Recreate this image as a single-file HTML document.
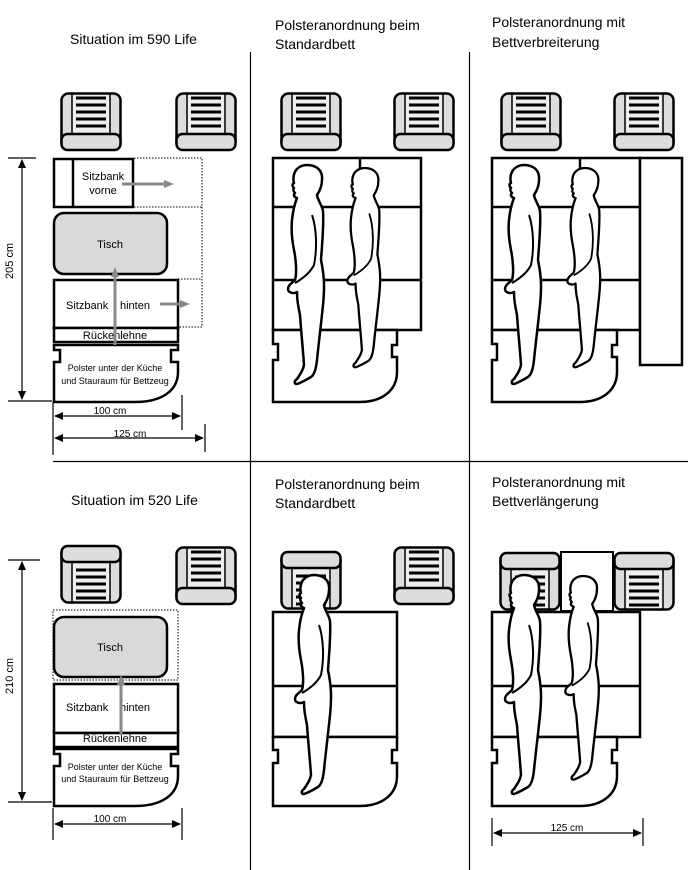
<!DOCTYPE html>
<html><head><meta charset="utf-8"><style>
html,body{margin:0;padding:0;background:#fff;}
svg{display:block;font-family:"Liberation Sans",sans-serif;}
</style></head><body>
<svg width="688" height="870" viewBox="0 0 688 870" xmlns="http://www.w3.org/2000/svg">
<defs>
<g id="seat">
<rect x="1.5" y="1.5" width="59" height="56" rx="7" fill="#ddd" stroke="#000" stroke-width="2.5"/>
<rect x="12" y="2" width="38" height="41" fill="#eee" stroke="#000" stroke-width="1.5"/>
<g stroke="#000" stroke-width="3"><line x1="16" y1="6" x2="46" y2="6"/><line x1="16" y1="13" x2="46" y2="13"/><line x1="16" y1="20" x2="46" y2="20"/><line x1="16" y1="27" x2="46" y2="27"/><line x1="16" y1="34" x2="46" y2="34"/></g>
<rect x="1.5" y="42" width="59" height="16" rx="6" fill="#ddd" stroke="#000" stroke-width="2.5"/>
</g>
<g id="person">
<path d="M15,0 C25,0 31,6 30,15 C30,22 27,27 25,30 C26,36 30,40 31,46 C32,60 30,80 29,95 C32,110 33,120 31,140 C29,160 27,175 25,195 C24,205 22,210 19,212 C14,215 8,218 5,219 C2,219 2,216 5,214 C9,208 11,205 12,200 C11,185 9,165 8,150 C6,140 5,135 5,127 C2,129 -4,128 -4,124 C-4,120 0,118 3,115 C5,108 4,95 2,85 C0,75 -1,65 0,55 C1,45 3,38 5,33 C2,32 1,30 3,28 C1,26 1,24 2,23 C0,21 0,19 2,18 C1,15 1,8 5,4 C8,1 12,0 15,0 Z" fill="#fff" stroke="#000" stroke-width="2.5" stroke-linejoin="round"/>
<path d="M20,50 C25,65 25,85 22,100 C18,108 10,114 3,118" fill="none" stroke="#000" stroke-width="2"/>
</g>
</defs>

<g stroke="#000" stroke-width="1.2">
<line x1="250.5" y1="52" x2="250.5" y2="870"/>
<line x1="469.5" y1="52" x2="469.5" y2="870"/>
<line x1="53" y1="461.5" x2="688" y2="461.5"/>
</g>

<g font-size="14" fill="#000">
<text x="70" y="44">Situation im 590 Life</text>
<text x="275" y="30">Polsteranordnung beim</text>
<text x="275" y="49">Standardbett</text>
<text x="492" y="27">Polsteranordnung mit</text>
<text x="492" y="47">Bettverbreiterung</text>
<text x="71" y="505">Situation im 520 Life</text>
<text x="275" y="489">Polsteranordnung beim</text>
<text x="275" y="508">Standardbett</text>
<text x="492" y="487">Polsteranordnung mit</text>
<text x="492" y="506">Bettverlängerung</text>
</g>

<!-- TOP LEFT -->
<use href="#seat" x="60" y="92"/>
<use href="#seat" x="175" y="92"/>
<g fill="none" stroke="#000" stroke-width="1" stroke-dasharray="1.5,1.5">
<polyline points="134,158 202,158 202,327 178,327"/>
<line x1="134" y1="207" x2="202" y2="207"/>
<line x1="178" y1="279" x2="202" y2="279"/>
</g>
<rect x="54" y="159" width="79" height="48" fill="#fff" stroke="#000" stroke-width="2.5"/>
<line x1="73" y1="159" x2="73" y2="207" stroke="#000" stroke-width="2.5"/>
<text x="103" y="180" font-size="11" text-anchor="middle">Sitzbank</text>
<text x="103" y="194" font-size="11" text-anchor="middle">vorne</text>
<rect x="54" y="213" width="113" height="61" rx="10" fill="#d9d9d9" stroke="#000" stroke-width="2.5"/>
<text x="110" y="248" font-size="11" text-anchor="middle">Tisch</text>
<rect x="54" y="280" width="124" height="48" fill="#fff" stroke="#000" stroke-width="2.5"/>
<text x="66" y="309" font-size="11">Sitzbank</text>
<text x="120" y="309" font-size="11">hinten</text>
<rect x="54" y="328" width="124" height="14" fill="#fff" stroke="#000" stroke-width="2.5"/>
<text x="115" y="339" font-size="11" text-anchor="middle">Rückenlehne</text>
<path d="M54,345 H178 V350 H171 V362 H178 V372 C178,392 160,402 135,402 H54 V362 H60 V350 H54 Z" fill="#fff" stroke="#000" stroke-width="2.5"/>
<text x="115" y="371" font-size="9" text-anchor="middle">Polster unter der Küche</text>
<text x="115" y="384" font-size="9" text-anchor="middle">und Stauraum für Bettzeug</text>
<g stroke="#888" stroke-width="3" fill="#888">
<line x1="122" y1="184" x2="166" y2="184"/><polygon points="174,184 164,180 164,188" stroke="none"/>
<line x1="160" y1="304" x2="182" y2="304"/><polygon points="190,304 180,300 180,308" stroke="none"/>
<line x1="115" y1="345" x2="115" y2="275"/><polygon points="115,267 111,277 119,277" stroke="none"/>
</g>
<g stroke="#000" stroke-width="1.2" fill="#000">
<line x1="8" y1="158" x2="36" y2="158"/><line x1="8" y1="401" x2="52" y2="401"/>
<line x1="22" y1="160" x2="22" y2="399"/>
<polygon points="22,159 18,168 26,168" stroke="none"/><polygon points="22,400 18,391 26,391" stroke="none"/>
<line x1="53" y1="402" x2="53" y2="455"/>
<line x1="182" y1="395" x2="182" y2="430"/>
<line x1="205" y1="424" x2="205" y2="452"/>
<line x1="55" y1="416" x2="180" y2="416"/>
<polygon points="54,416 63,412 63,420" stroke="none"/><polygon points="181,416 172,412 172,420" stroke="none"/>
<line x1="55" y1="438" x2="203" y2="438"/>
<polygon points="54,438 63,434 63,442" stroke="none"/><polygon points="204,438 195,434 195,442" stroke="none"/>
</g>
<text x="17" y="265" font-size="11" text-anchor="middle" transform="rotate(-90 13 265)">205 cm</text>
<text x="110" y="414" font-size="10" text-anchor="middle">100 cm</text>
<text x="130" y="437" font-size="10" text-anchor="middle">125 cm</text>

<!-- TOP MIDDLE -->
<use href="#seat" x="280" y="92"/>
<use href="#seat" x="393" y="92"/>
<g fill="none" stroke="#000" stroke-width="2.5">
<rect x="273" y="158" width="148" height="172" fill="#fff"/>
<line x1="273" y1="207" x2="421" y2="207"/>
<line x1="273" y1="280" x2="421" y2="280"/>
<line x1="360" y1="158" x2="360" y2="170"/>
<path d="M273,330 H397 V345 H392 V357 H397 V372 C397,392 380,402 360,402 H273 V360 H278 V344 H273 Z" fill="#fff"/>
</g>
<use href="#person" x="292" y="165"/>
<use href="#person" transform="translate(351 168) scale(0.91)"/>

<!-- TOP RIGHT -->
<use href="#seat" x="500" y="92"/>
<use href="#seat" x="613" y="92"/>
<g fill="none" stroke="#000" stroke-width="2.5">
<rect x="492" y="158" width="148" height="172" fill="#fff"/>
<line x1="492" y1="207" x2="640" y2="207"/>
<line x1="492" y1="280" x2="640" y2="280"/>
<line x1="580" y1="158" x2="580" y2="170"/>
<rect x="640" y="158" width="42" height="207" fill="#fff"/>
<path d="M492,330 H617 V345 H612 V357 H617 V372 C617,392 600,402 580,402 H492 V360 H497 V344 H492 Z" fill="#fff"/>
</g>
<use href="#person" x="509" y="165"/>
<use href="#person" transform="translate(571 168) scale(0.91)"/>

<!-- BOTTOM LEFT -->
<use href="#seat" transform="translate(60 604) scale(1 -1)"/>
<use href="#seat" x="175" y="546"/>
<rect x="53" y="610" width="125" height="70" fill="none" stroke="#000" stroke-width="1" stroke-dasharray="1.5,1.5"/>
<rect x="54" y="617" width="113" height="60" rx="10" fill="#d9d9d9" stroke="#000" stroke-width="2.5"/>
<text x="110" y="651" font-size="11" text-anchor="middle">Tisch</text>
<rect x="54" y="684" width="124" height="49" fill="#fff" stroke="#000" stroke-width="2.5"/>
<text x="66" y="711" font-size="11">Sitzbank</text>
<text x="120" y="711" font-size="11">hinten</text>
<rect x="54" y="733" width="124" height="14" fill="#fff" stroke="#000" stroke-width="2.5"/>
<text x="115" y="742" font-size="11" text-anchor="middle">Rückenlehne</text>
<path d="M54,749 H178 V754 H171 V766 H178 V776 C178,796 160,806 135,806 H54 V766 H60 V754 H54 Z" fill="#fff" stroke="#000" stroke-width="2.5"/>
<text x="115" y="770" font-size="9" text-anchor="middle">Polster unter der Küche</text>
<text x="115" y="782" font-size="9" text-anchor="middle">und Stauraum für Bettzeug</text>
<g stroke="#888" stroke-width="3" fill="#888">
<line x1="121" y1="735" x2="121" y2="683"/><polygon points="121,675 117,685 125,685" stroke="none"/>
</g>
<g stroke="#000" stroke-width="1.2" fill="#000">
<line x1="8" y1="560" x2="40" y2="560"/><line x1="8" y1="802" x2="52" y2="802"/>
<line x1="22" y1="562" x2="22" y2="800"/>
<polygon points="22,561 18,570 26,570" stroke="none"/><polygon points="22,801 18,792 26,792" stroke="none"/>
<line x1="53" y1="808" x2="53" y2="840"/>
<line x1="182" y1="808" x2="182" y2="840"/>
<line x1="55" y1="824" x2="180" y2="824"/>
<polygon points="54,824 63,820 63,828" stroke="none"/><polygon points="181,824 172,820 172,828" stroke="none"/>
</g>
<text x="17" y="680" font-size="11" text-anchor="middle" transform="rotate(-90 13 680)">210 cm</text>
<text x="110" y="822" font-size="10" text-anchor="middle">100 cm</text>

<!-- BOTTOM MIDDLE -->
<use href="#seat" transform="translate(280 610) scale(1 -1)"/>
<use href="#seat" x="393" y="546"/>
<g fill="none" stroke="#000" stroke-width="2.5">
<rect x="273" y="612" width="124" height="125" fill="#fff"/>
<line x1="273" y1="686" x2="397" y2="686"/>
<path d="M273,737 H397 V750 H392 V763 H397 V776 C397,796 380,806 360,806 H273 V763 H278 V750 H273 Z" fill="#fff"/>
</g>
<use href="#person" x="299" y="575"/>

<!-- BOTTOM RIGHT -->
<use href="#seat" transform="translate(499 611) scale(1 -1)"/>
<rect x="561" y="552" width="52" height="59" fill="#fff" stroke="#000" stroke-width="2"/>
<use href="#seat" transform="translate(613 611) scale(1 -1)"/>
<g fill="none" stroke="#000" stroke-width="2.5">
<rect x="492" y="612" width="148" height="125" fill="#fff"/>
<line x1="492" y1="686" x2="640" y2="686"/>
<path d="M492,737 H617 V750 H612 V763 H617 V776 C617,796 600,806 580,806 H492 V763 H497 V750 H492 Z" fill="#fff"/>
</g>
<use href="#person" x="509" y="575"/>
<use href="#person" transform="translate(569 576) scale(0.93)"/>
<g stroke="#000" stroke-width="1.2" fill="#000">
<line x1="492" y1="818" x2="492" y2="846"/>
<line x1="643" y1="818" x2="643" y2="846"/>
<line x1="494" y1="833" x2="641" y2="833"/>
<polygon points="493,833 502,829 502,837" stroke="none"/><polygon points="642,833 633,829 633,837" stroke="none"/>
</g>
<text x="567" y="831" font-size="10" text-anchor="middle">125 cm</text>
</svg>
</body></html>
